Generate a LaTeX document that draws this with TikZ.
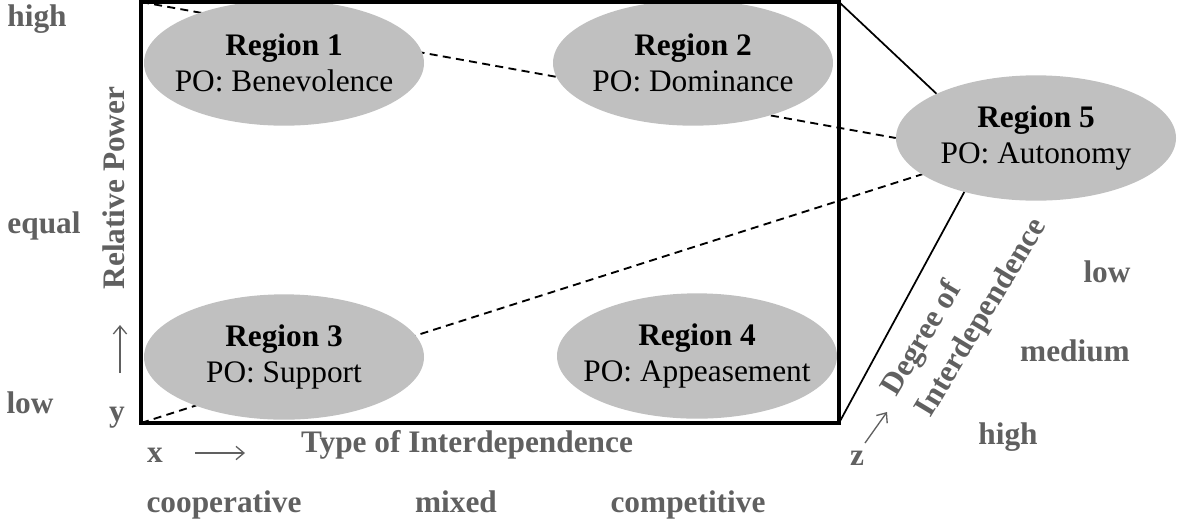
\documentclass[tikz,border=0pt]{standalone}
\usepackage{fontspec}
\setmainfont{Liberation Serif}
\usetikzlibrary{shapes.geometric,backgrounds,arrows.meta}
\definecolor{regiongray}{HTML}{C0C0C0}
\definecolor{labelgray}{HTML}{606060}
\tikzset{
  region/.style={ellipse,fill=regiongray,minimum width=210pt,minimum height=94pt,
    inner xsep=-20pt,inner ysep=0pt,align=center,font=\fontsize{23.5}{27}\selectfont},
  axlabel/.style={text=labelgray,inner sep=0pt,font=\fontsize{23.5}{27}\selectfont\bfseries},
  axarrow/.style={draw=labelgray,line width=1pt,-{Straight Barb[length=6pt,width=10pt]}},
  border/.style={line width=3.2pt},
  link/.style={line width=1.4pt,dash pattern=on 6pt off 4pt},
  edgefive/.style={line width=1.3pt}
}
\begin{document}
\begin{tikzpicture}[x=0.75pt,y=-0.75pt]
                \useasboundingbox (0,0) rectangle (1177,522);
                %angoli del rettangolo
                \coordinate (tl) at (141,2);
                \coordinate (tr) at (839,2);
                \coordinate (bl) at (141,423);
                \coordinate (br) at (839,423);
                %regioni
                \node[region] (r1) at (284,63) {\textbf{Region 1}\\PO: Benevolence};
                \node[region] (r2) at (693,63) {\textbf{Region 2}\\PO: Dominance};
                \node[region] (r3) at (284,357) {\textbf{Region 3}\\PO: Support};
                \node[region] (r4) at (697,356) {\textbf{Region 4}\\PO: Appeasement};
                \node[region] (r5) at (1036,138) {\textbf{Region 5}\\PO: Autonomy};
                %rettangolo e linee
                \draw[border] (tl) rectangle (br);
                \begin{scope}[on background layer]
                \draw[link] (tl) -- (r5.west);
                \draw[link] (bl) -- (r5.center);
                \end{scope}
                \draw[edgefive] (tr) -- (r5.156);
                \draw[edgefive] (br) -- (r5.217);
                %asse y
                \node[axlabel] (yhigh) at (37,19) {high};
                \node[axlabel] (yequal) at (44,226) {equal};
                \node[axlabel] (ylow) at (30,403) {low};
                \node[axlabel,rotate=90] (ytitle) at (114,188) {Relative Power};
                \node[axlabel] (ysym) at (117,418) {y};
                \coordinate (ya) at (120,373);
                \coordinate (yb) at (120,325);
                \draw[axarrow] (ya) -- (yb);
                %asse x
                \node[axlabel] (xsym) at (155,455) {x};
                \coordinate (xa) at (195,453);
                \coordinate (xb) at (245,453);
                \draw[axarrow] (xa) -- (xb);
                \node[axlabel,anchor=base] (xtitle) at (467,452) {Type of Interdependence};
                \node[axlabel,anchor=base] (xcoop) at (224,512) {cooperative};
                \node[axlabel,anchor=base] (xmixed) at (456,512) {mixed};
                \node[axlabel,anchor=base] (xcomp) at (688,512) {competitive};
                %asse z
                \node[axlabel] (zsym) at (857,458) {z};
                \coordinate (za) at (865,443);
                \coordinate (zb) at (887,412);
                \draw[axarrow] (za) -- (zb);
                \node[axlabel,rotate=59,align=left,font=\fontsize{23.5}{30}\selectfont\bfseries]
                  (ztitle) at (965,308) {Degree of\\Interdependence};
                \node[axlabel] (zlow) at (1107,272) {low};
                \node[axlabel] (zmedium) at (1075,351) {medium};
                \node[axlabel] (zhigh) at (1008,437) {high};
            \end{tikzpicture}
\end{document}
